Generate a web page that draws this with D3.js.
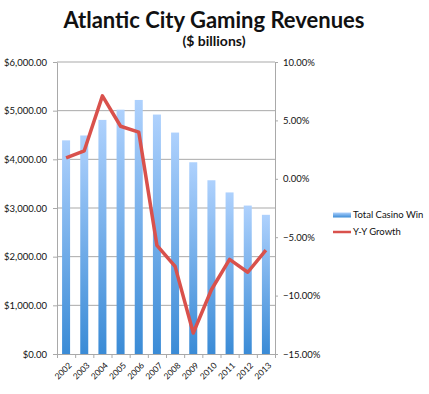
<!DOCTYPE html>
<meta charset="utf-8">
<title>Atlantic City Gaming Revenues</title>
<script src="https://d3js.org/d3.v7.min.js"></script>
<style>
body { margin: 0; background: #fff; }
text { font-family: Lato, "Liberation Sans", sans-serif; fill: #111; }
.title { font-weight: bold; font-size: 22px; }
.subtitle { font-weight: bold; font-size: 14px; }
.tick text { font-size: 9.5px; }
.legend text { font-size: 9.5px; }
</style>
<body>
<div id="chart"></div>
<script>
// data
var years = ["2002","2003","2004","2005","2006","2007","2008","2009","2010","2011","2012","2013"];
var casinoWin = [4390, 4490, 4810, 5020, 5220, 4920, 4550, 3940, 3570, 3320, 3050, 2860];
var yyGrowth = [1.8, 2.4, 7.1, 4.5, 4.0, -5.7, -7.5, -13.2, -9.5, -6.9, -8.0, -6.1];
var leftTicks = [0, 1000, 2000, 3000, 4000, 5000, 6000];
var rightTicks = [-15, -10, -5, 0, 5, 10];

var W = 429, H = 394;
var margin = {top: 62, right: 154, bottom: 40, left: 57},
    width = W - margin.left - margin.right,
    height = H - margin.top - margin.bottom;

var svg = d3.select("#chart").append("svg")
    .attr("width", W).attr("height", H);

// gradient for the bars
var grad = svg.append("defs").append("linearGradient")
    .attr("id", "barGrad").attr("x1", 0).attr("y1", 0).attr("x2", 0).attr("y2", 1);
grad.append("stop").attr("offset", "0%").attr("stop-color", "#aed1fd");
grad.append("stop").attr("offset", "100%").attr("stop-color", "#3a8bd6");

svg.append("text").attr("class", "title")
    .attr("x", 214).attr("y", 28).attr("text-anchor", "middle")
    .text("Atlantic City Gaming Revenues");
svg.append("text").attr("class", "subtitle")
    .attr("x", 214).attr("y", 46).attr("text-anchor", "middle")
    .text("($ billions)");

var g = svg.append("g")
    .attr("transform", "translate(" + margin.left + "," + margin.top + ")");

var x = d3.scaleBand().domain(years).range([0, width]);
var y = d3.scaleLinear().domain([0, 6000]).range([height, 0]);
var y2 = d3.scaleLinear().domain([-15, 10]).range([height, 0]);

// grid lines
g.append("g").selectAll("line")
  .data(leftTicks.slice(1))
  .enter().append("line")
    .attr("x1", 0).attr("x2", width)
    .attr("y1", function(d) { return y(d); })
    .attr("y2", function(d) { return y(d); })
    .attr("stroke", "#a9a9a9").attr("stroke-width", 1);

// left axis
var yAxis = g.append("g")
    .call(d3.axisLeft(y).tickValues(leftTicks).tickSize(4).tickSizeOuter(0)
      .tickFormat(function(d) { return "$" + d3.format(",.2f")(d); }));
yAxis.selectAll("line, path").attr("stroke", "#a9a9a9");
yAxis.selectAll("text").attr("x", -10);

// right axis
var y2Axis = g.append("g")
    .attr("transform", "translate(" + width + ",0)")
    .call(d3.axisRight(y2).tickValues(rightTicks).tickSize(3).tickSizeOuter(0)
      .tickFormat(function(d) { return d3.format(".2f")(d) + "%"; }));
y2Axis.selectAll("line, path").attr("stroke", "#a9a9a9");
y2Axis.selectAll("text").attr("x", 8);

// bars
var bw = 8;
g.append("g").selectAll("rect")
  .data(years)
  .enter().append("rect")
    .attr("x", function(d) { return x(d) + x.bandwidth() / 2 - bw / 2; })
    .attr("y", function(d, i) { return y(casinoWin[i]); })
    .attr("width", bw)
    .attr("height", function(d, i) { return height - y(casinoWin[i]); })
    .attr("fill", "url(#barGrad)");

// bottom axis with ticks at band edges
var xEdge = d3.scaleLinear().domain([0, years.length]).range([0, width]);
var xAxis = g.append("g")
    .attr("transform", "translate(0," + height + ")")
    .call(d3.axisBottom(xEdge).ticks(years.length).tickSize(4).tickSizeOuter(0).tickFormat(""));
xAxis.selectAll("line, path").attr("stroke", "#a9a9a9");

g.append("g").selectAll("text")
  .data(years)
  .enter().append("text")
    .attr("transform", function(d) {
      return "translate(" + (x(d) + x.bandwidth() / 2 + 4) + "," + (height + 10) + ") rotate(-45)";
    })
    .attr("text-anchor", "end")
    .attr("dy", "0.35em")
    .style("font-size", "8.5px")
    .text(function(d) { return d; });

// growth line
var line = d3.line()
    .x(function(d, i) { return x(years[i]) + x.bandwidth() / 2; })
    .y(function(d) { return y2(d); });
g.append("path")
    .datum(yyGrowth)
    .attr("d", line)
    .attr("fill", "none")
    .attr("stroke", "#d9514c")
    .attr("stroke-width", 3.5)
    .attr("stroke-linejoin", "round");

// legend
var legend = svg.append("g").attr("class", "legend");
legend.append("rect")
    .attr("x", 333).attr("y", 212.5).attr("width", 18).attr("height", 5)
    .attr("fill", "url(#barGrad)");
legend.append("text")
    .attr("x", 353).attr("y", 215).attr("dy", "0.35em")
    .text("Total Casino Win");
legend.append("line")
    .attr("x1", 333).attr("x2", 351).attr("y1", 232).attr("y2", 232)
    .attr("stroke", "#d9514c").attr("stroke-width", 2.5);
legend.append("text")
    .attr("x", 353).attr("y", 232).attr("dy", "0.35em")
    .text("Y-Y Growth");
</script>
</body>
